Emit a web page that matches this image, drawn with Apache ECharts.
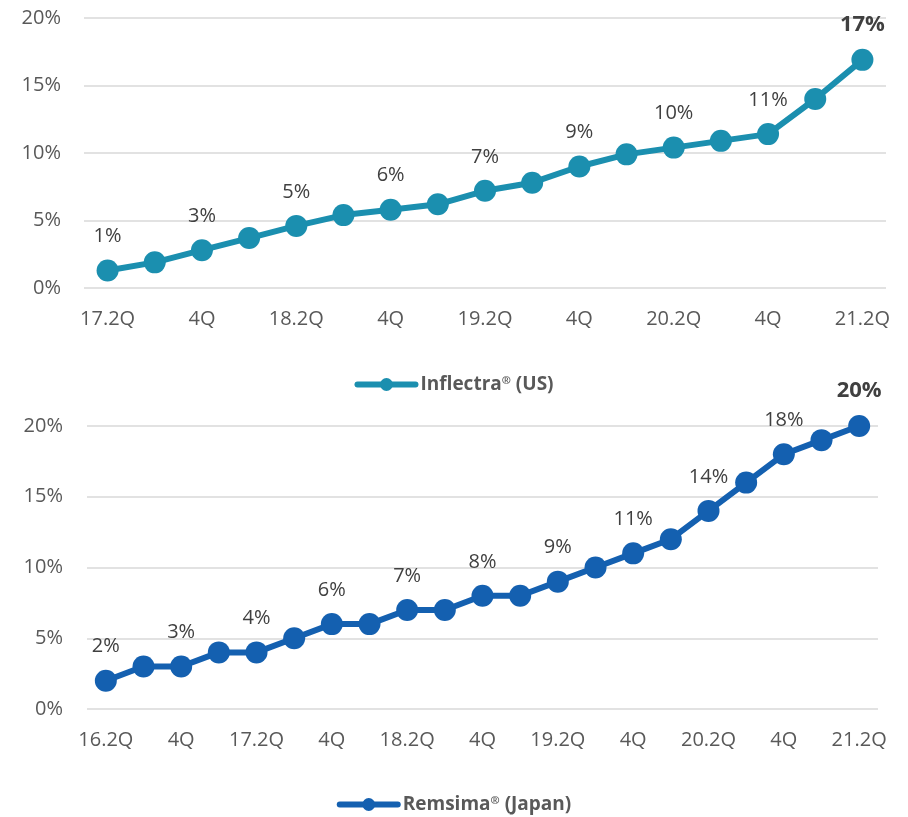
<!DOCTYPE html>
<html>
<head>
<meta charset="utf-8">
<script src="https://cdn.jsdelivr.net/npm/echarts@6/dist/echarts.min.js"></script>
<style>
html,body{margin:0;padding:0;background:#fff;}
#main{width:908px;height:817px;}
</style>
</head>
<body>
<div id="main"></div>
<script>
var usCategories = ['17.2Q','3Q','4Q','18.1Q','18.2Q','3Q','4Q','19.1Q','19.2Q','3Q','4Q','20.1Q','20.2Q','3Q','4Q','21.1Q','21.2Q'];
var usValues = [1.3, 1.9, 2.8, 3.7, 4.6, 5.4, 5.8, 6.2, 7.2, 7.8, 9.0, 9.9, 10.4, 10.9, 11.4, 14.0, 16.9];
var jpCategories = ['16.2Q','3Q','4Q','17.1Q','17.2Q','3Q','4Q','18.1Q','18.2Q','3Q','4Q','19.1Q','19.2Q','3Q','4Q','20.1Q','20.2Q','3Q','4Q','21.1Q','21.2Q'];
var jpValues = [2, 3, 3, 4, 4, 5, 6, 6, 7, 7, 8, 8, 9, 10, 11, 12, 14, 16, 18, 19, 20];
var yTicks = [0, 5, 10, 15, 20];
var usName = 'Inflectra® (US)';
var jpName = 'Remsima® (Japan)';

var FONT = 'Open Sans';
var usColor = '#1B8FAF';
var jpColor = '#1460B0';

function makeData(vals){
  return vals.map(function(v, i){
    var last = i === vals.length - 1;
    var show = i % 2 === 0;
    return {
      value: v,
      label: {
        show: show,
        fontWeight: last ? 'bold' : 'normal',
        fontSize: last ? 22 : 20,
        color: '#404040'
      }
    };
  });
}

function legendFmt(name){
  return name.replace('®', '{sup|®}');
}

var legendText = {
  color:'#595959', fontSize:19, fontWeight:'bold', fontFamily:FONT,
  rich:{sup:{fontSize:11, fontWeight:'bold', color:'#595959', fontFamily:FONT, verticalAlign:'top', padding:[0,0,8,0]}}
};

var chart = echarts.init(document.getElementById('main'));
var axisLabelStyle = {color:'#595959', fontSize:20, fontFamily:FONT};
chart.setOption({
  animation:false,
  textStyle:{fontFamily:FONT},
  legend:[
    {data:[usName], left:'center', top:370, itemWidth:58, itemHeight:16, itemGap:3,
     formatter:legendFmt, lineStyle:{width:6, cap:'round'}, textStyle:legendText},
    {data:[jpName], left:'center', top:790, itemWidth:58, itemHeight:16, itemGap:3,
     formatter:legendFmt, lineStyle:{width:6, cap:'round'}, textStyle:legendText}
  ],
  grid:[
    {left:84, right:22, top:18, height:270},
    {left:87, right:30, top:426, height:283}
  ],
  xAxis:[
    {type:'category', gridIndex:0, data:usCategories, boundaryGap:true,
     axisLine:{show:false}, axisTick:{show:false},
     axisLabel:Object.assign({interval:1, margin:21}, axisLabelStyle)},
    {type:'category', gridIndex:1, data:jpCategories, boundaryGap:true,
     axisLine:{show:false}, axisTick:{show:false},
     axisLabel:Object.assign({interval:1, margin:21}, axisLabelStyle)}
  ],
  yAxis:[
    {type:'value', gridIndex:0, min:yTicks[0], max:yTicks[yTicks.length-1], interval:5,
     axisLine:{show:false}, axisTick:{show:false},
     splitLine:{lineStyle:{color:'#D9D9D9', width:1.5}},
     axisLabel:Object.assign({margin:23, formatter:'{value}%'}, axisLabelStyle)},
    {type:'value', gridIndex:1, min:yTicks[0], max:yTicks[yTicks.length-1], interval:5,
     axisLine:{show:false}, axisTick:{show:false},
     splitLine:{lineStyle:{color:'#D9D9D9', width:1.5}},
     axisLabel:Object.assign({margin:24, formatter:'{value}%'}, axisLabelStyle)}
  ],
  series:[
    {name:usName, type:'line', xAxisIndex:0, yAxisIndex:0, data:makeData(usValues),
     symbol:'circle', symbolSize:22, color:usColor,
     lineStyle:{width:6, color:usColor}, itemStyle:{color:usColor},
     label:{position:'top', distance:13, fontFamily:FONT,
       formatter:function(p){return Math.round(p.value)+'%';}}},
    {name:jpName, type:'line', xAxisIndex:1, yAxisIndex:1, data:makeData(jpValues),
     symbol:'circle', symbolSize:22, color:jpColor,
     lineStyle:{width:6, color:jpColor}, itemStyle:{color:jpColor},
     label:{position:'top', distance:13, fontFamily:FONT,
       formatter:function(p){return Math.round(p.value)+'%';}}}
  ]
});
</script>
</body>
</html>
